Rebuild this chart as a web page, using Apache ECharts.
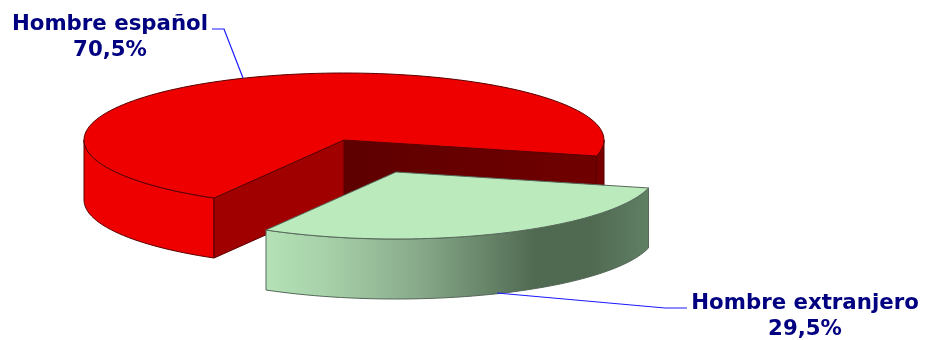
<!DOCTYPE html>
<html>
<head>
<meta charset="utf-8">
<title>Hombre español / extranjero</title>
<style>
html,body{margin:0;padding:0;background:#fff;}
#main{width:926px;height:340px;}
</style>
<script src="https://cdn.jsdelivr.net/npm/echarts@6/dist/echarts.min.js"></script>
</head>
<body>
<div id="main"></div>
<script>
const categories = ['Hombre español', 'Hombre extranjero'];
const shares = [70.5, 29.5];

var chart = echarts.init(document.getElementById('main'), null, {renderer: 'canvas'});

// pie geometry, angles in degrees clockwise from 3 o'clock
const cx = 344, cy = 140, rx = 260, ry = 67, depth = 60;
const redStart = 120;
const explode = [[0, 0], [52, 32]];
const labelPos = [[110, 23], [805, 302]];
const leaders = [
	[[212, 29], [224, 29], [243, 78]],
	[[497, 293], [665, 308], [687, 308]]
];

function arc(ox, oy, a0, a1) {
	var pts = [];
	var n = Math.max(2, Math.ceil(Math.abs(a1 - a0) / 2));
	for (var i = 0; i <= n; i++) {
		var a = (a0 + (a1 - a0) * i / n) * Math.PI / 180;
		pts.push([ox + rx * Math.cos(a), oy + ry * Math.sin(a)]);
	}
	return pts;
}

function poly(points, fill, stroke) {
	return {
		type: 'polygon',
		shape: {points: points},
		style: {fill: fill, stroke: stroke, lineWidth: 1, lineJoin: 'round'}
	};
}

// outer wall between two angles
function wall(ox, oy, a0, a1, fill, stroke) {
	var top = arc(ox, oy, a0, a1);
	var bottom = arc(ox, oy + depth, a1, a0);
	return poly(top.concat(bottom), fill, stroke);
}

// flat cut face from the centre out to an angle
function cut(ox, oy, a, fill, stroke) {
	var p = arc(ox, oy, a, a)[0];
	return poly([[ox, oy], p, [p[0], p[1] + depth], [ox, oy + depth]], fill, stroke);
}

function renderSlice(params, api) {
	var i = api.value(0);
	var sweep = api.value(1) / 100 * 360;
	var ox = cx + explode[i][0], oy = cy + explode[i][1];
	var children = [];
	if (i === 0) {
		var a0 = redStart, a1 = redStart + sweep;
		var edge = '#5a0000';
		children.push(wall(ox, oy, a0, 180, '#ee0000', edge));
		children.push(wall(ox, oy, 360, a1, '#760000', edge));
		children.push(cut(ox, oy, a1, new echarts.graphic.LinearGradient(0, 0, 1, 0, [
			{offset: 0, color: '#5e0000'},
			{offset: 1, color: '#700000'}
		]), edge));
		children.push(cut(ox, oy, a0, '#a00000', edge));
		children.push(poly([[ox, oy]].concat(arc(ox, oy, a0, a1)), '#ee0000', edge));
	} else {
		var b1 = redStart, b0 = redStart - sweep;
		var line = '#56685a';
		children.push(wall(ox, oy, b0, b1, new echarts.graphic.LinearGradient(0, 0, 1, 0, [
			{offset: 0, color: '#b4e2b6'},
			{offset: 0.15, color: '#a8d2aa'},
			{offset: 0.4, color: '#88aa8a'},
			{offset: 0.7, color: '#506a52'},
			{offset: 0.85, color: '#506a52'},
			{offset: 1, color: '#608064'}
		]), line));
		children.push(poly([[ox, oy]].concat(arc(ox, oy, b0, b1)), '#bbebbd', line));
	}
	children.push({
		type: 'polyline',
		shape: {points: leaders[i]},
		style: {fill: null, stroke: '#1a1aff', lineWidth: 1.2}
	});
	var pct = String(api.value(1)).replace('.', ',') + '%';
	children.push({
		type: 'text',
		style: {
			text: categories[i] + '\n' + pct,
			x: labelPos[i][0],
			y: labelPos[i][1] - 12,
			align: 'center',
			verticalAlign: 'top',
			lineHeight: 26,
			fill: '#000080',
			font: 'bold 21.3px "DejaVu Sans", Verdana, sans-serif'
		}
	});
	return {type: 'group', children: children};
}

var option = {
	backgroundColor: '#fff',
	animation: false,
	series: [{
		type: 'custom',
		coordinateSystem: 'none',
		renderItem: renderSlice,
		data: shares.map(function (v, i) { return [i, v]; })
	}]
};

chart.setOption(option);

window.onresize = function () {
	chart.resize();
};
</script>
</body>
</html>
